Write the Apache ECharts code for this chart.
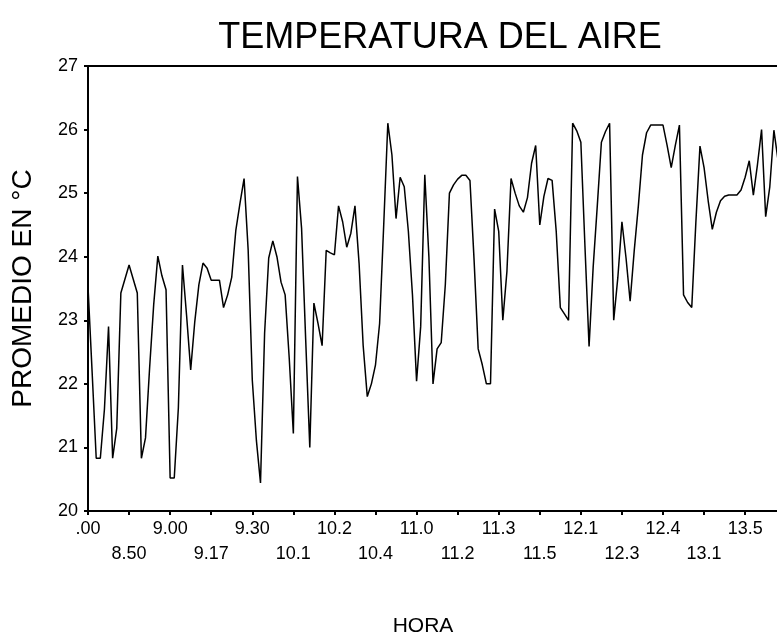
<!DOCTYPE html>
<html>
<head>
<meta charset="utf-8">
<script src="https://cdn.jsdelivr.net/npm/echarts@6/dist/echarts.min.js"></script>
<style>
  html, body { margin: 0; padding: 0; background: #fff; }
  #grafico { width: 777px; height: 635px; }
</style>
</head>
<body>
<div id="grafico"></div>
<script>
// etiquetas del eje X (una cada 10 mediciones)
var etiquetas = ['.00', '8.50', '9.00', '9.17', '9.30', '10.1', '10.2', '10.4', '11.0',
  '11.2', '11.3', '11.5', '12.1', '12.3', '12.4', '13.1', '13.5'];

// promedio de temperatura del aire (°C)
var temperatura = [
  23.53, 22.19, 20.83, 20.83, 21.6, 22.9, 20.83, 21.3, 23.43, 23.65,
  23.87, 23.65, 23.43, 20.83, 21.15, 22.25, 23.25, 24.01, 23.7, 23.48,
  20.52, 20.52, 21.62, 23.87, 23.08, 22.22, 22.98, 23.56, 23.9, 23.82,
  23.63, 23.63, 23.63, 23.2, 23.4, 23.68, 24.42, 24.84, 25.23, 24.1,
  22.06, 21.11, 20.44, 22.8, 23.98, 24.25, 24.0, 23.6, 23.4, 22.4,
  21.22, 25.26, 24.45, 22.7, 21.0, 23.27, 22.95, 22.6, 24.1, 24.06,
  24.03, 24.8, 24.55, 24.15, 24.37, 24.8, 23.9, 22.6, 21.8, 22.0,
  22.3, 22.95, 24.5, 26.1, 25.6, 24.6, 25.25, 25.1, 24.4, 23.4,
  22.04, 22.9, 25.29, 24.0, 22.0, 22.55, 22.65, 23.56, 25.0, 25.13,
  25.22, 25.28, 25.28, 25.2, 23.95, 22.55, 22.3, 22.0, 22.0, 24.75,
  24.4, 23.0, 23.77, 25.23, 25.0, 24.8, 24.7, 24.93, 25.47, 25.75,
  24.5, 24.95, 25.23, 25.2, 24.4, 23.2, 23.1, 23.0, 26.1, 25.98,
  25.8, 24.16, 22.59, 23.84, 24.8, 25.8, 25.97, 26.1, 23.0, 23.67,
  24.55, 23.98, 23.3, 24.1, 24.8, 25.6, 25.95, 26.07, 26.07, 26.07,
  26.07, 25.75, 25.4, 25.75, 26.07, 23.4, 23.28, 23.2, 24.54, 25.74,
  25.4, 24.88, 24.43, 24.7, 24.88, 24.95, 24.97, 24.97, 24.97, 25.05,
  25.25, 25.51, 24.97, 25.45, 26.0, 24.63, 25.1, 25.99, 25.52
];

// categorias: una por medicion
var horas = temperatura.map(function (v, i) {
  return i % 10 === 0 ? etiquetas[i / 10] : String(i);
});

var fuente = 'Liberation Sans, Arial, sans-serif';
var chart = echarts.init(document.getElementById('grafico'));

var option = {
  backgroundColor: '#fff',
  animation: false,
  title: {
    text: 'TEMPERATURA DEL AIRE',
    left: 435,
    top: 15,
    textAlign: 'center',
    textStyle: { color: '#000', fontFamily: fuente, fontWeight: 'normal', fontSize: 36 }
  },
  grid: {
    left: 88, top: 66, bottom: 124, right: -1,
    outerBoundsMode: 'none',
    containLabel: false,
    show: true, borderColor: '#000', borderWidth: 2, backgroundColor: 'transparent'
  },
  xAxis: {
    type: 'category',
    data: horas,
    boundaryGap: false,
    name: 'HORA',
    nameLocation: 'middle',
    nameGap: 105,
    nameTextStyle: { color: '#000', fontFamily: fuente, fontSize: 21, padding: [0, 20, 0, 0] },
    axisLine: { lineStyle: { color: '#000', width: 2 } },
    axisTick: { show: true, interval: 9, length: 4, lineStyle: { color: '#000', width: 2 } },
    axisLabel: {
      interval: 9,
      color: '#000',
      fontFamily: fuente,
      fontSize: 18,
      margin: 6,
      lineHeight: 25,
      formatter: function (value, index) {
        var k = index / 10;
        return k % 2 ? '\n' + etiquetas[k] : etiquetas[k];
      }
    },
    splitLine: { show: false }
  },
  yAxis: {
    type: 'value',
    min: 20,
    max: 27,
    interval: 1,
    name: 'PROMEDIO EN °C',
    nameLocation: 'middle',
    nameGap: 51,
    nameTextStyle: { color: '#000', fontFamily: fuente, fontSize: 28 },
    axisLine: { show: true, lineStyle: { color: '#000', width: 2 } },
    axisTick: { show: true, length: 4, lineStyle: { color: '#000', width: 2 } },
    axisLabel: { color: '#000', fontFamily: fuente, fontSize: 18, margin: 10 },
    splitLine: { show: false }
  },
  series: [{
    name: 'Temperatura',
    type: 'line',
    data: temperatura,
    symbol: 'none',
    lineStyle: { color: '#000', width: 1.5 }
  }]
};

chart.setOption(option);
</script>
</body>
</html>
